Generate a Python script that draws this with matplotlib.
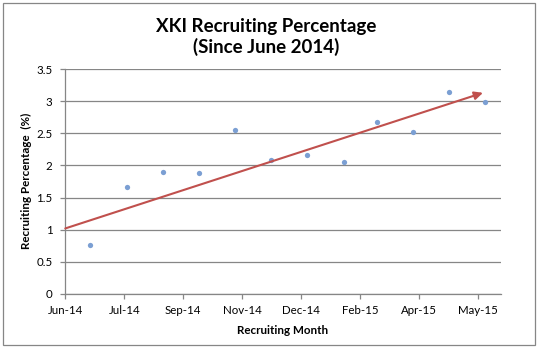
import matplotlib
matplotlib.use('Agg')
import matplotlib.pyplot as plt
import matplotlib.dates as mdates
from matplotlib.patches import Rectangle
import pandas as pd

# data
months = ['2014-07-01', '2014-08-01', '2014-09-01', '2014-10-01', '2014-11-01', '2014-12-01',
          '2015-01-01', '2015-02-01', '2015-03-01', '2015-04-01', '2015-05-01', '2015-06-01']
recruit_pct = [0.76, 1.66, 1.90, 1.88, 2.55, 2.08, 2.16, 2.05, 2.67, 2.52, 3.14, 2.99]

tick_dates = ['2014-06-10', '2014-07-30', '2014-09-18', '2014-11-07',
              '2014-12-27', '2015-02-15', '2015-04-06', '2015-05-26']
tick_labels = ['Jun-14', 'Jul-14', 'Sep-14', 'Nov-14', 'Dec-14', 'Feb-15', 'Apr-15', 'May-15']

trend_dates = ['2014-06-10', '2015-05-30']
trend_pct = [1.02, 3.13]

x_range = ['2014-06-10', '2015-06-14']
y_ticks = [0, 0.5, 1, 1.5, 2, 2.5, 3, 3.5]

plt.rcParams['font.family'] = ['Lato', 'DejaVu Sans']

W, H = 537, 347
fig = plt.figure(figsize=(W / 100, H / 100), dpi=100)
ax = fig.add_axes([65.3 / W, 1 - 294 / H, (500.7 - 65.3) / W, (294 - 69) / H])

grey = '#868686'
x = mdates.date2num(pd.to_datetime(months))
ax.plot(x, recruit_pct, 'o', color='#7B9FD3', markersize=3.8, markeredgewidth=0, zorder=3)

tx = mdates.date2num(pd.to_datetime(trend_dates))
ax.annotate('', xy=(tx[1], trend_pct[1]), xytext=(tx[0], trend_pct[0]),
            arrowprops=dict(arrowstyle='-|>,head_length=0.5,head_width=0.24',
                            color='#C0504D', lw=1.5, shrinkA=0, shrinkB=0), zorder=4)

xr = mdates.date2num(pd.to_datetime(x_range))
ax.set_xlim(xr[0], xr[1])
ax.set_ylim(0, 3.5)
ax.set_xticks(mdates.date2num(pd.to_datetime(tick_dates)))
ax.set_xticklabels(tick_labels)
ax.set_yticks(y_ticks)
ax.set_yticklabels(['0', '0.5', '1', '1.5', '2', '2.5', '3', '3.5'])

ax.grid(axis='y', color=grey, lw=0.9)
ax.set_axisbelow(True)
for s in ['top', 'right']:
    ax.spines[s].set_visible(False)
for s in ['left', 'bottom']:
    ax.spines[s].set_color(grey)
    ax.spines[s].set_linewidth(0.9)
ax.tick_params(axis='both', colors=grey, labelcolor='black', labelsize=8.3, width=0.9, length=3.3)
ax.tick_params(axis='y', pad=6.0)
ax.tick_params(axis='x', pad=4.6)

fig.text(283 / W, 1 - 331 / H, 'Recruiting Month', ha='center', va='center',
         fontsize=8.4, fontweight='bold')
fig.text(26.5 / W, 1 - 181 / H, 'Recruiting Percentage  (%)', ha='center', va='center',
         rotation=90, fontsize=8.4, fontweight='bold')

fig.text(266 / W, 1 - 31.7 / H, 'XKI Recruiting Percentage', ha='center', va='baseline',
         fontsize=13.5, fontweight='bold')
fig.text(266 / W, 1 - 53.3 / H, '(Since June 2014)', ha='center', va='baseline',
         fontsize=13.5, fontweight='bold')

fig.add_artist(Rectangle((2.5 / W, 2.5 / H), (534.5 - 2.5) / W, (344.5 - 2.5) / H,
                         transform=fig.transFigure, fill=False, ec=grey, lw=0.9))

fig.savefig('out.png', dpi=100)
